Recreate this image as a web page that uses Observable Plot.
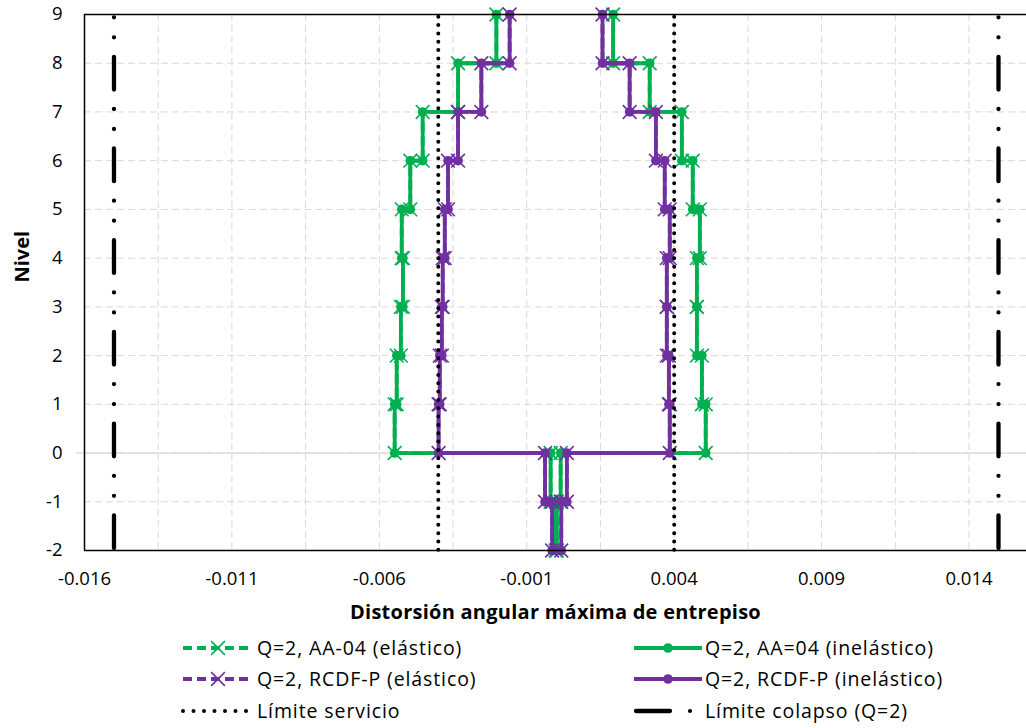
<!DOCTYPE html>
<html><head><meta charset="utf-8">
<script src="https://cdn.jsdelivr.net/npm/d3@7"></script>
<script src="https://cdn.jsdelivr.net/npm/@observablehq/plot@0.6"></script>
<style>
body{margin:0;background:#fff;font-family:"Open Sans",sans-serif;}
#chart svg{display:block;}
#legend svg{display:block;}
</style></head><body><div id="chart"></div><div id="legend"></div>
<script>
// ---- data ----
const storyTop = [9, 8, 7, 6, 5, 4, 3, 2, 1];        // story i spans level i-1 .. i
const basementTop = [0, -1];                          // basement stories
const levels = [-2, -1, 0, 1, 2, 3, 4, 5, 6, 7, 8, 9];
const xTicks = [-0.016, -0.011, -0.006, -0.001, 0.004, 0.009, 0.014];
const xGrid = [-0.0135, -0.011, -0.0085, -0.006, -0.0035, -0.001, 0.0015, 0.004, 0.0065, 0.009, 0.0115, 0.014];

// AA-04 drifts (negative / positive side), stories 9..1
const aaElasNeg = [-0.00203, -0.00333, -0.00453, -0.00495, -0.00524, -0.00520, -0.00527, -0.00541, -0.00548];
const aaElasPos = [0.00193, 0.00317, 0.00426, 0.00463, 0.00487, 0.00477, 0.00477, 0.00494, 0.00507];
const aaElasBNeg = [-0.00019, -0.00002];
const aaElasBPos = [0.00015, 0.00002];
const aaInelNeg = [-0.00203, -0.00333, -0.00453, -0.00495, -0.00524, -0.00520, -0.00527, -0.00541, -0.00548];
const aaInelPos = [0.00193, 0.00317, 0.00426, 0.00463, 0.00487, 0.00477, 0.00477, 0.00494, 0.00507];
const aaInelBNeg = [-0.00019, -0.00002];
const aaInelBPos = [0.00015, 0.00002];
// RCDF-P drifts
const rcElasNeg = [-0.00158, -0.00254, -0.00333, -0.00367, -0.00378, -0.00385, -0.00388, -0.00395, -0.00399];
const rcElasPos = [0.00157, 0.00249, 0.00338, 0.00368, 0.00385, 0.00375, 0.00375, 0.00382, 0.00385];
const rcElasBNeg = [-0.00038, -0.00014];
const rcElasBPos = [0.00036, 0.00017];
const rcInelNeg = [-0.00158, -0.00254, -0.00333, -0.00367, -0.00378, -0.00385, -0.00388, -0.00395, -0.00399];
const rcInelPos = [0.00157, 0.00249, 0.00338, 0.00368, 0.00385, 0.00375, 0.00375, 0.00382, 0.00385];
const rcInelBNeg = [-0.00038, -0.00014];
const rcInelBPos = [0.00036, 0.00017];

const limServicio = [-0.004, 0.004];
const limColapso = [-0.015, 0.015];
const xDomain = [-0.016, 0.01595];
const yDomain = [-2, 9];

const seriesNames = ["Q=2, AA-04 (elástico)", "Q=2, AA=04 (inelástico)", "Q=2, RCDF-P (elástico)", "Q=2, RCDF-P (inelástico)"];
const limitNames = ["Límite servicio", "Límite colapso (Q=2)"];

const GREEN = "#00B050", PURPLE = "#7030A0";
const FONT = "'Open Sans', sans-serif";

function profile(neg, pos, bneg, bpos) {
  const pts = [];
  storyTop.forEach((L, i) => { pts.push({x: neg[i], y: L}); pts.push({x: neg[i], y: L - 1}); });
  basementTop.forEach((L, i) => { pts.push({x: bneg[i], y: L}); pts.push({x: bneg[i], y: L - 1}); });
  for (let i = basementTop.length - 1; i >= 0; i--) { pts.push({x: bpos[i], y: basementTop[i] - 1}); pts.push({x: bpos[i], y: basementTop[i]}); }
  for (let i = storyTop.length - 1; i >= 0; i--) { pts.push({x: pos[i], y: storyTop[i] - 1}); pts.push({x: pos[i], y: storyTop[i]}); }
  return pts;
}
const aaE = profile(aaElasNeg, aaElasPos, aaElasBNeg, aaElasBPos);
const aaI = profile(aaInelNeg, aaInelPos, aaInelBNeg, aaInelBPos);
const rcE = profile(rcElasNeg, rcElasPos, rcElasBNeg, rcElasBPos);
const rcI = profile(rcInelNeg, rcInelPos, rcInelBNeg, rcInelBPos);

const LW = 3.8;
function elastic(data, color) {
  return [
    Plot.line(data, {x: "x", y: "y", stroke: color, strokeWidth: LW, strokeDasharray: "9,5"}),
    Plot.dot(data, {x: "x", y: "y", symbol: "times", r: 6.3, stroke: color, strokeWidth: 1.6})
  ];
}
function inelastic(data, color) {
  return [
    Plot.line(data, {x: "x", y: "y", stroke: color, strokeWidth: LW}),
    Plot.dot(data, {x: "x", y: "y", symbol: "circle", r: 4.8, fill: color, stroke: "none"})
  ];
}

const chart = Plot.plot({
  width: 1026,
  height: 630,
  marginLeft: 84,
  marginRight: 0,
  marginTop: 14,
  marginBottom: 80,
  style: {fontFamily: FONT, fontSize: "18.5px", color: "#000", background: "#fff"},
  x: {domain: xDomain, label: null},
  y: {domain: yDomain, label: null},
  marks: [
    Plot.ruleX(xGrid, {stroke: "#d9d9d9", strokeWidth: 1, strokeDasharray: "7,4"}),
    Plot.ruleY(levels, {stroke: "#d9d9d9", strokeWidth: 1, strokeDasharray: "7,4"}),
    Plot.ruleY([0], {stroke: "#d9d9d9", strokeWidth: 1.2, insetLeft: -8}),
    ...elastic(aaE, GREEN),
    ...inelastic(aaI, GREEN),
    ...elastic(rcE, PURPLE),
    ...inelastic(rcI, PURPLE),
    Plot.ruleX(limServicio, {stroke: "#000", strokeWidth: 4, strokeDasharray: "0,8.33", strokeLinecap: "round", strokeDashoffset: 5.6}),
    Plot.ruleX(limColapso, {stroke: "#000", strokeWidth: 4.3, strokeDasharray: "32.7,19.5,0,20,0,19.5", strokeLinecap: "round", strokeDashoffset: 48.9}),
    Plot.ruleX([xDomain[0]], {stroke: "#000", strokeWidth: 1.5}),
    Plot.ruleY(yDomain, {stroke: "#000", strokeWidth: 1.5}),
    Plot.axisX(xTicks, {tickSize: 0, tickPadding: 21, tickFormat: d => d.toFixed(3), label: null, fontSize: 18.5}),
    Plot.axisY(levels, {tickSize: 0, tickPadding: 22, tickFormat: d => String(d), label: null, fontSize: 18.5}),
    Plot.text(["Distorsión angular máxima de entrepiso"], {frameAnchor: "bottom", dy: 68, text: d => d, fontWeight: "bold", fontSize: 20}),
    Plot.text(["Nivel"], {frameAnchor: "left", dx: -62, rotate: -90, text: d => d, fontWeight: "bold", fontSize: 20})
  ]
});
chart.querySelectorAll("text").forEach(t => { if (t.textContent.startsWith("Distorsión")) t.setAttribute("letter-spacing", "0.25"); });
document.getElementById("chart").appendChild(chart);

// ---- legend ----
const lg = d3.select("#legend").append("svg").attr("width", 1026).attr("height", 98)
  .style("font-family", FONT).style("font-size", "19.5px");
const rowsY = [18, 49, 81];
const col1 = {x0: 183, x1: 253, tx: 257};
const col2 = {x0: 634, x1: 702, tx: 705};
function legLine(g, c, y, color, dashed, marker) {
  g.append("line").attr("x1", c.x0).attr("x2", c.x1).attr("y1", y).attr("y2", y)
    .attr("stroke", color).attr("stroke-width", LW).attr("stroke-dasharray", dashed ? "9,5" : null);
  const cx = (c.x0 + c.x1) / 2;
  if (marker === "times") {
    g.append("path").attr("d", d3.symbol(d3.symbolTimes, 6.3 * 6.3 * Math.PI)()).attr("transform", `translate(${cx},${y})`)
      .attr("stroke", color).attr("stroke-width", 1.6).attr("fill", "none");
  } else {
    g.append("circle").attr("cx", cx).attr("cy", y).attr("r", 4.8).attr("fill", color);
  }
}
function legText(c, y, t) {
  lg.append("text").attr("x", c.tx).attr("y", y).attr("dy", "0.35em").attr("letter-spacing", "0.9").text(t);
}
legLine(lg, col1, rowsY[0], GREEN, true, "times"); legText(col1, rowsY[0], seriesNames[0]);
legLine(lg, col2, rowsY[0], GREEN, false, "circle"); legText(col2, rowsY[0], seriesNames[1]);
legLine(lg, col1, rowsY[1], PURPLE, true, "times"); legText(col1, rowsY[1], seriesNames[2]);
legLine(lg, col2, rowsY[1], PURPLE, false, "circle"); legText(col2, rowsY[1], seriesNames[3]);
lg.append("line").attr("x1", col1.x0).attr("x2", col1.x1).attr("y1", rowsY[2]).attr("y2", rowsY[2])
  .attr("stroke", "#000").attr("stroke-width", 4).attr("stroke-dasharray", "0,10.5").attr("stroke-linecap", "round");
legText(col1, rowsY[2], limitNames[0]);
lg.append("line").attr("x1", col2.x0 + 2).attr("x2", col2.x0 + 36).attr("y1", rowsY[2]).attr("y2", rowsY[2])
  .attr("stroke", "#000").attr("stroke-width", 4.3).attr("stroke-linecap", "round");
lg.append("circle").attr("cx", col2.x0 + 56).attr("cy", rowsY[2]).attr("r", 2.1).attr("fill", "#000");
legText(col2, rowsY[2], limitNames[1]);
</script></body></html>
